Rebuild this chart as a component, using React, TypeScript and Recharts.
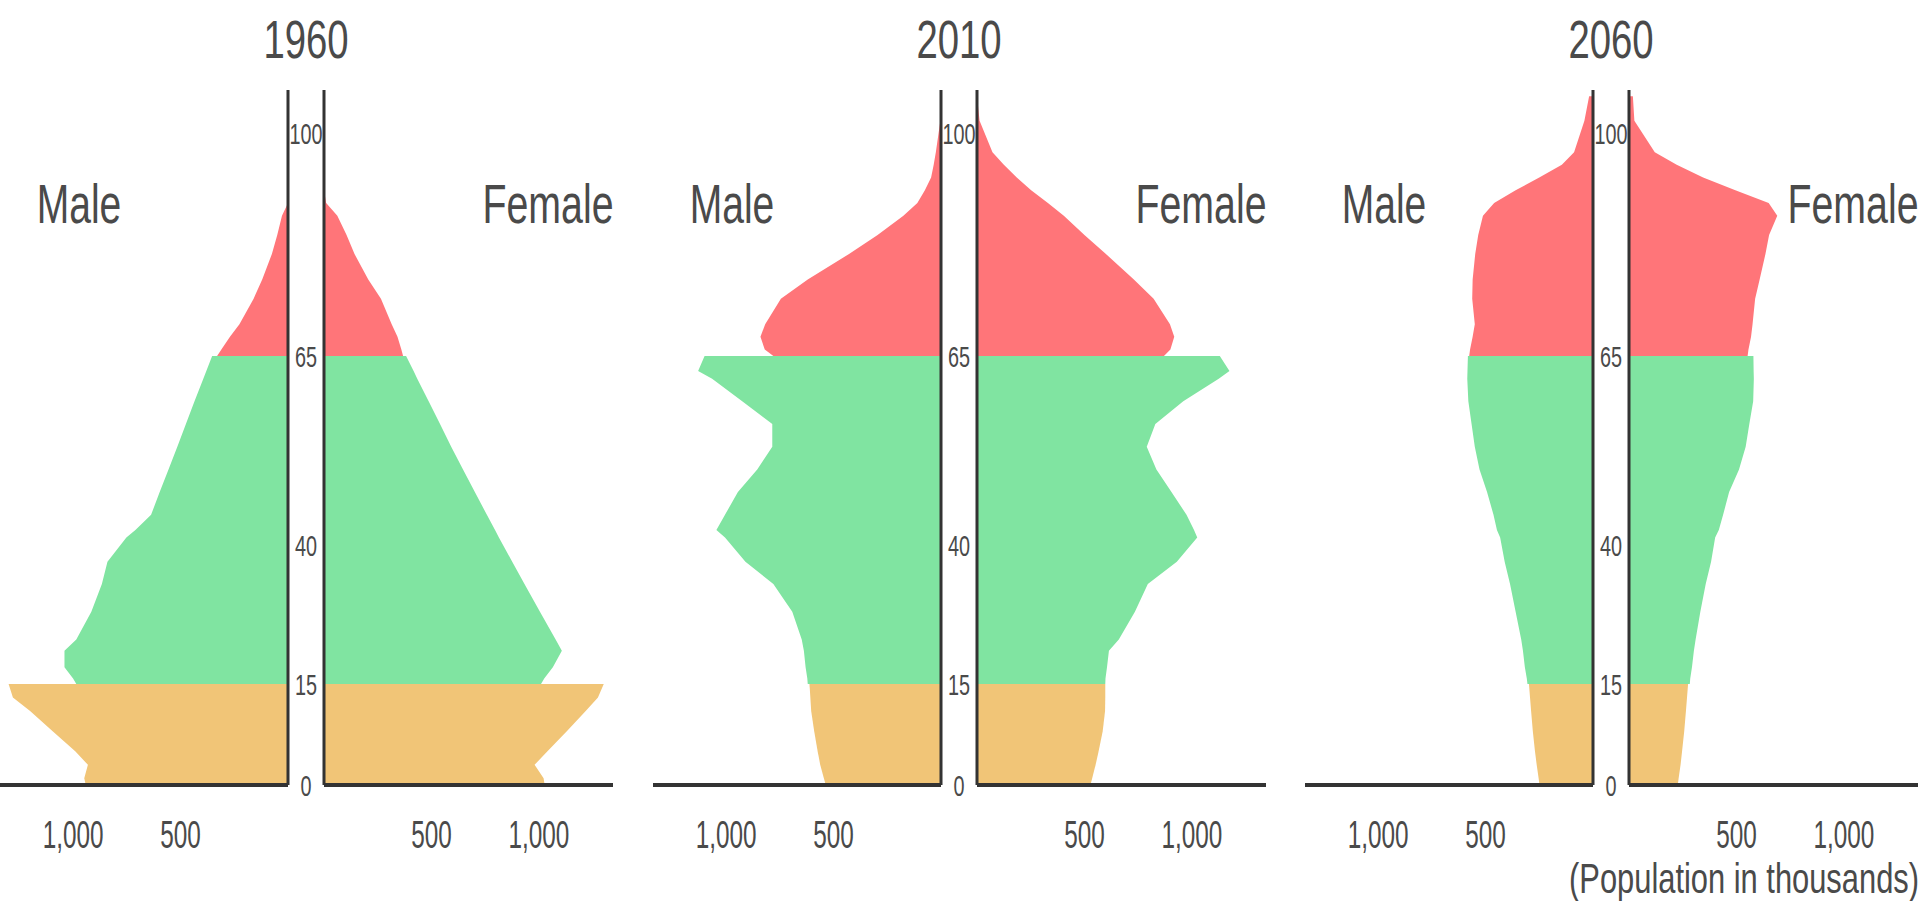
import React from 'react';
import { AreaChart, Area, XAxis, YAxis } from 'recharts';

// ---------- data ----------
const years = ['1960', '2010', '2060'];
const childAges = [0, 1, 3, 5, 8, 11, 13, 15];
const workAges = [15, 16, 18, 21, 23, 28, 33, 37, 41, 42, 44, 47, 50, 53, 56, 59, 62, 63, 65];
const elderAges = [65, 66, 68, 70, 74, 77, 81, 84, 87, 89, 91, 93, 95, 97, 102, 106];
const ageTicks = [0, 15, 40, 65, 100];
const popTicks = [500, 1000];

// population in thousands
const male1960Child = [941, 948, 931, 990, 1095, 1200, 1280, 1300];
const female1960Child = [1027, 1022, 980, 1040, 1130, 1218, 1275, 1302];
const male1960Work = [985, 1000, 1040, 1040, 985, 915, 866, 840, 752, 710, 637, 597, 556, 515, 475, 435, 394, 380, 353];
const female1960Work = [1010, 1025, 1065, 1107, 1078, 1005, 933, 876, 814, 796, 758, 702, 647, 592, 540, 487, 434, 417, 382];
const male1960Elder = [330, 310, 270, 226, 160, 120, 75, 50, 28, 0, 0, 0, 0, 0, 0, 0];
const female1960Elder = [368, 360, 342, 315, 265, 206, 142, 105, 62, 10, 0, 0, 0, 0, 0, 0];

const male2010Child = [536, 545, 562, 574, 590, 604, 608, 612];
const female2010Child = [528, 536, 552, 566, 585, 596, 597, 597];
const male2010Work = [620, 622, 630, 638, 648, 692, 780, 910, 1005, 1045, 1005, 945, 855, 785, 785, 925, 1065, 1130, 1100];
const female2010Work = [597, 598, 605, 614, 660, 735, 795, 930, 1025, 1010, 975, 905, 835, 790, 830, 960, 1125, 1175, 1130];
const male2010Elder = [780, 820, 840, 818, 745, 620, 428, 295, 175, 110, 75, 46, 34, 24, 3, 0];
const female2010Elder = [870, 900, 918, 898, 822, 730, 600, 500, 404, 330, 252, 185, 125, 72, 12, 0];

const male2060Child = [249, 253, 262, 270, 280, 288, 293, 298];
const female2060Child = [227, 231, 240, 247, 257, 265, 270, 275];
const male2060Work = [305, 308, 317, 326, 334, 360, 386, 411, 432, 447, 463, 493, 528, 550, 565, 580, 585, 584, 582];
const female2060Work = [283, 285, 293, 302, 310, 332, 357, 382, 401, 418, 438, 466, 512, 543, 560, 578, 581, 580, 579];
const male2060Elder = [576, 572, 560, 550, 562, 560, 548, 534, 512, 460, 360, 250, 145, 88, 40, 18];
const female2060Elder = [552, 556, 568, 575, 587, 608, 635, 652, 690, 650, 495, 345, 222, 120, 25, 18];

const maleSeries = [
  [male1960Child, male1960Work, male1960Elder],
  [male2010Child, male2010Work, male2010Elder],
  [male2060Child, male2060Work, male2060Elder],
];
const femaleSeries = [
  [female1960Child, female1960Work, female1960Elder],
  [female2010Child, female2010Work, female2010Elder],
  [female2060Child, female2060Work, female2060Elder],
];

// ---------- age axis (the original's age axis is not evenly spaced) ----------
const ageAxisKnots = [0, 15, 40, 65, 100, 107];
const ageAxisShare = [0, 0.1453, 0.3453, 0.6173, 0.9381, 1];

function piecewiseScale(knots: number[], share: number[], dom0?: number[], rng0?: number[]): any {
  let dom: number[] = dom0 ? dom0.slice() : [knots[0], knots[knots.length - 1]];
  let rng: number[] = rng0 ? rng0.slice() : [0, 1];
  const toShare = (v: number) => {
    const n = knots.length - 1;
    let i = 1;
    while (i < n && v > knots[i]) i++;
    const f = (v - knots[i - 1]) / (knots[i] - knots[i - 1]);
    return share[i - 1] + f * (share[i] - share[i - 1]);
  };
  const scale: any = (v: any) => {
    if (v == null || Number.isNaN(+v)) return undefined;
    return rng[0] + toShare(+v) * (rng[1] - rng[0]);
  };
  scale.domain = (d?: number[]) => {
    if (d === undefined) return dom.slice();
    dom = d.slice();
    return scale;
  };
  scale.range = (r?: number[]) => {
    if (r === undefined) return rng.slice();
    rng = r.slice();
    return scale;
  };
  scale.copy = () => piecewiseScale(knots, share, dom, rng);
  scale.ticks = () => ageTicks.slice();
  scale.nice = () => scale;
  scale.clamp = () => scale;
  scale.tickFormat = () => (v: any) => String(v);
  scale.invert = (px: number) => {
    const s = (px - rng[0]) / (rng[1] - rng[0]);
    const n = knots.length - 1;
    let i = 1;
    while (i < n && s > share[i]) i++;
    const f = (s - share[i - 1]) / (share[i] - share[i - 1]);
    return knots[i - 1] + f * (knots[i] - knots[i - 1]);
  };
  return scale;
}

// ---------- style ----------
const FONT = '"Liberation Sans", Arial, Helvetica, sans-serif';
const TEXT = '#4a4a4a';
const LINE = '#333333';
const ORANGE = '#F1C577';
const GREEN = '#80E4A1';
const RED = '#FF7579';

const AXIS_M = [288, 941, 1593];
const AXIS_F = [324, 977, 1629];
const PLOT_TOP = 90;
const PLOT_BOTTOM = 785;
const H = 901;
const HALF_GAP = 18;
const M_W = 288;
const F_W = 289;

function buildRows(child: number[], work: number[], elder: number[]) {
  return [
    ...childAges.map((age, i) => ({ age, child: child[i] })),
    ...workAges.map((age, i) => ({ age, work: work[i] })),
    ...elderAges.map((age, i) => ({ age, elder: elder[i] })),
  ];
}

const AgeTick = (props: any) => {
  const { x, y, payload } = props;
  return (
    <text
      transform={`translate(${x},${y}) scale(0.66,1)`}
      textAnchor="middle"
      dominantBaseline="central"
      fontSize={30}
      fill={TEXT}
      fontFamily={FONT}
    >
      {payload.value}
    </text>
  );
};

const PopTick = (props: any) => {
  const { x, y, payload } = props;
  return (
    <text
      transform={`translate(${x},${y + 63}) scale(0.64,1)`}
      textAnchor="middle"
      fontSize={38}
      fill={TEXT}
      fontFamily={FONT}
    >
      {Number(payload.value).toLocaleString('en-US')}
    </text>
  );
};

function Half({ side, idx }: { side: 'male' | 'female'; idx: number }) {
  const isMale = side === 'male';
  const [c, w, e] = isMale ? maleSeries[idx] : femaleSeries[idx];
  const rows = buildRows(c, w, e);
  // female chart keeps extra room on its left so the age labels in the gap are not clipped
  const left = isMale ? AXIS_M[idx] - M_W : AXIS_F[idx] - 2 * HALF_GAP;
  const width = isMale ? M_W + HALF_GAP : F_W + 2 * HALF_GAP;
  return (
    <div style={{ position: 'absolute', left, top: 0, width, height: H }}>
      <AreaChart
        width={width}
        height={H}
        data={rows}
        layout="vertical"
        margin={{ top: PLOT_TOP, right: 0, bottom: 0, left: isMale ? 0 : HALF_GAP }}
      >
        <XAxis
          type="number"
          domain={isMale ? [0, 1340] : [0, 1345]}
          reversed={isMale}
          ticks={popTicks}
          interval={0}
          height={H - PLOT_BOTTOM}
          tickLine={false}
          tickSize={0}
          tickMargin={0}
          axisLine={{ stroke: LINE, strokeWidth: 4 }}
          tick={PopTick}
          allowDataOverflow
        />
        <YAxis
          type="number"
          dataKey="age"
          domain={[0, 107]}
          scale={piecewiseScale(ageAxisKnots, ageAxisShare)}
          reversed
          ticks={ageTicks}
          interval={0}
          orientation={isMale ? 'right' : 'left'}
          width={HALF_GAP}
          tickLine={false}
          tickSize={0}
          tickMargin={HALF_GAP}
          axisLine={{ stroke: LINE, strokeWidth: 3 }}
          tick={isMale ? false : AgeTick}
          allowDataOverflow
        />
        <Area dataKey="child" type="linear" fill={ORANGE} fillOpacity={1} stroke="none" dot={false} activeDot={false} isAnimationActive={false} />
        <Area dataKey="work" type="linear" fill={GREEN} fillOpacity={1} stroke="none" dot={false} activeDot={false} isAnimationActive={false} />
        <Area dataKey="elder" type="linear" fill={RED} fillOpacity={1} stroke="none" dot={false} activeDot={false} isAnimationActive={false} />
      </AreaChart>
    </div>
  );
}

function Label({ x, y, size, sx, anchor, children }: any) {
  return (
    <text
      transform={`translate(${x},${y}) scale(${sx},1)`}
      textAnchor={anchor || 'middle'}
      fontSize={size}
      fill={TEXT}
      fontFamily={FONT}
    >
      {children}
    </text>
  );
}

export default function App() {
  return (
    <div style={{ position: 'absolute', left: 0, top: 0, width: 1920, height: H, overflow: 'hidden', background: '#fff' }}>
      {years.map((yr, i) => (
        <React.Fragment key={yr}>
          <Half side="male" idx={i} />
          <Half side="female" idx={i} />
        </React.Fragment>
      ))}
      <svg width={1920} height={H} style={{ position: 'absolute', left: 0, top: 0, pointerEvents: 'none' }}>
        {years.map((yr, i) => (
          <React.Fragment key={yr}>
            <Label x={(AXIS_M[i] + AXIS_F[i]) / 2} y={58} size={54} sx={0.71}>{yr}</Label>
            <Label x={AXIS_M[i] - 209} y={223} size={55} sx={0.71}>Male</Label>
            <Label x={AXIS_F[i] + 224} y={223} size={55} sx={0.715}>Female</Label>
          </React.Fragment>
        ))}
        <Label x={1919} y={893} size={42} sx={0.735} anchor="end">(Population in thousands)</Label>
      </svg>
    </div>
  );
}
